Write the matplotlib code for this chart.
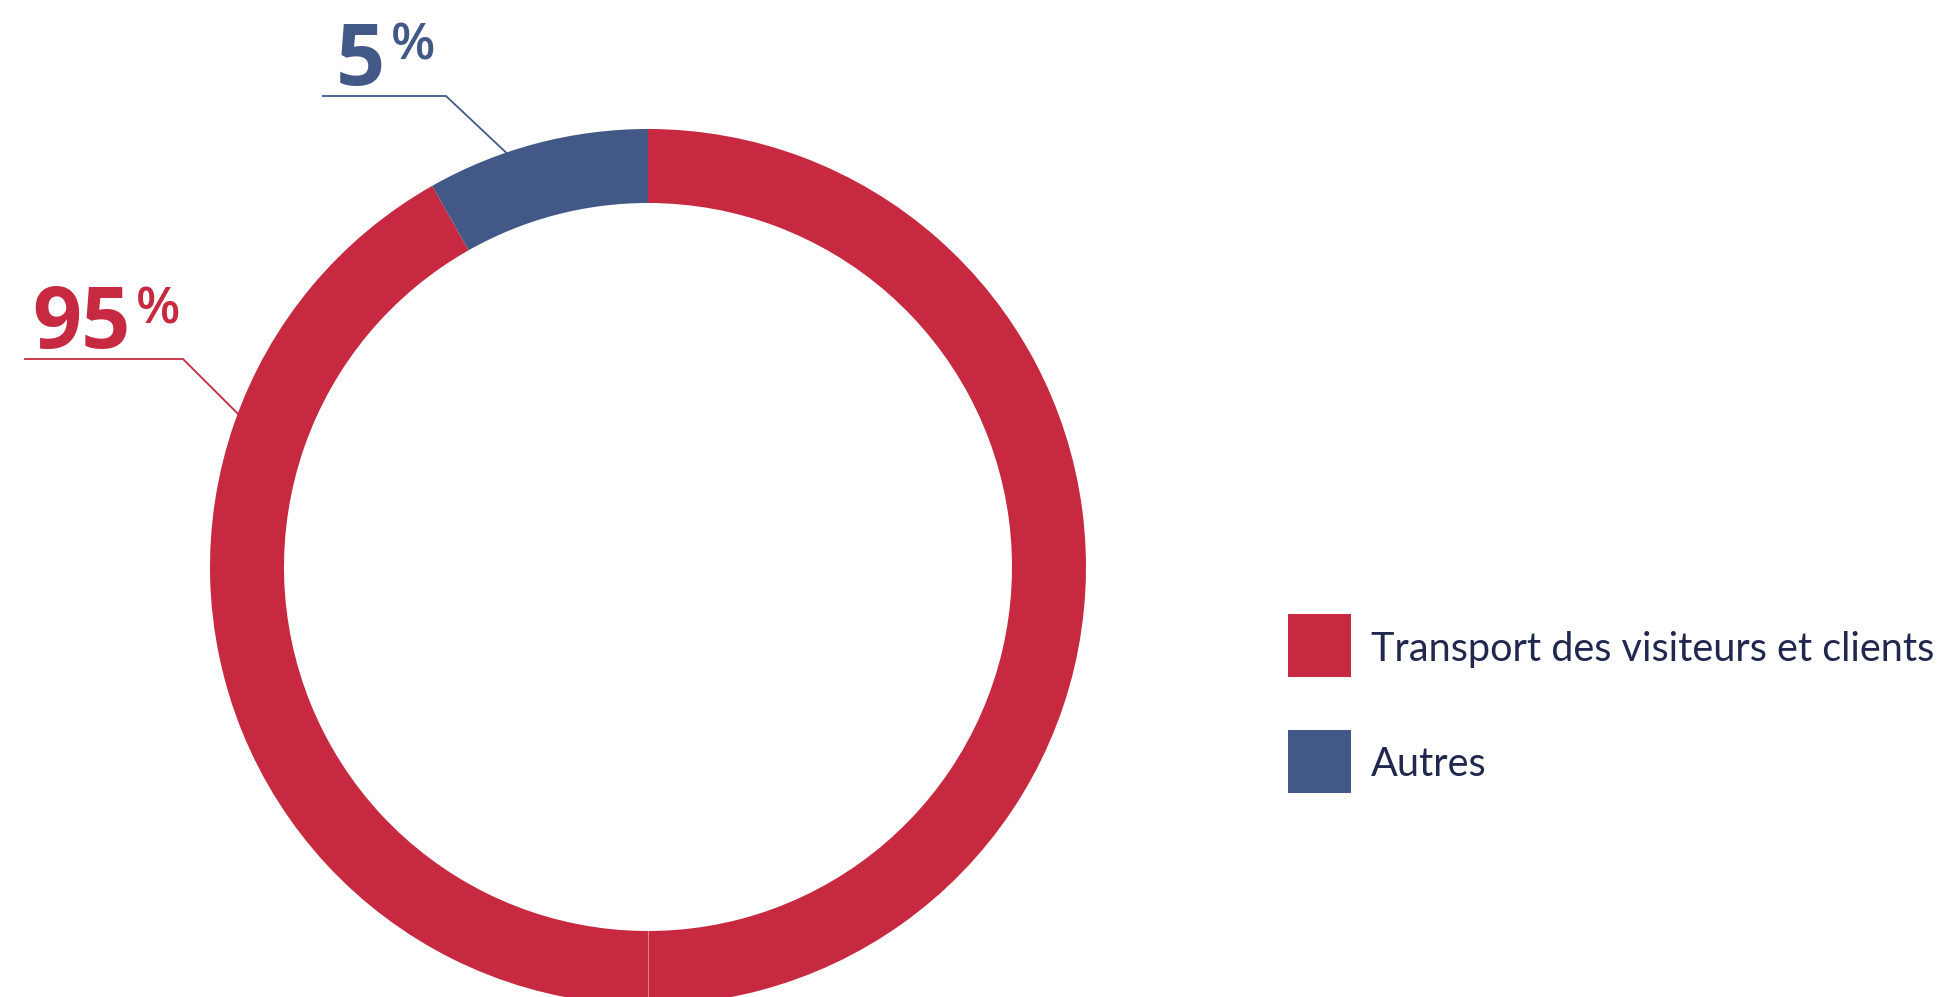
import numpy as np
import matplotlib
matplotlib.use("Agg")
import matplotlib.pyplot as plt
from matplotlib.patches import Rectangle

# -----------------------------
# Data
# -----------------------------
categories = ["Transport des visiteurs et clients", "Autres"]
pct_labels = ["95", "5"]
# arc shares as drawn in the picture (blue arc spans ~30 degrees)
arc_shares = [91.8, 8.2]
colors = ["#C62940", "#425988"]
text_color = "#20284F"

W, H = 1942, 997
CX, CY = 648, H - 567
R_OUT, R_IN = 438, 364

plt.rcParams["font.family"] = ["Lato", "DejaVu Sans"]
num_font = ["Open Sans", "DejaVu Sans"]

fig = plt.figure(figsize=(W / 100, H / 100), dpi=100)
ax = fig.add_axes([0, 0, 1, 1])

# -----------------------------
# Donut
# -----------------------------
wedges, _ = ax.pie(
    arc_shares,
    colors=colors,
    startangle=90,
    counterclock=False,
    center=(CX, CY),
    radius=R_OUT,
    frame=True,
    wedgeprops=dict(width=R_OUT - R_IN, edgecolor="none", linewidth=0),
)
ax.set_xlim(0, W)
ax.set_ylim(0, H)
ax.set_aspect("equal")
ax.axis("off")

# faint seam at the bottom of the red ring
ax.plot([CX, CX], [CY - R_IN, CY - R_OUT], color="white", lw=0.8, alpha=0.4)


def ring_point(angle_deg, r=R_OUT):
    a = np.radians(angle_deg)
    return CX + r * np.cos(a), CY + r * np.sin(a)


# -----------------------------
# Leader lines + percentage labels
# -----------------------------
# (label, colour, angle on ring, elbow x, line start x, line y, text x)
callouts = [
    (pct_labels[0], colors[0], 159.5, 183, 25, H - 359, 32),
    (pct_labels[1], colors[1], 108.9, 446, 323, H - 96, 336),
]
for lab, col, ang, ex, sx, ly, tx in callouts:
    px, py = ring_point(ang)
    ax.plot([sx, ex, px], [ly, ly, py], color=col, lw=1.3, solid_joinstyle="miter")
    num = ax.text(tx, ly + 11, lab, color=col, fontsize=62, fontweight="bold",
                  fontstyle="normal", family=num_font, ha="left", va="baseline")
    fig.canvas.draw()
    bb = num.get_window_extent()
    ax.text(bb.x1 + 6, ly + 74, "%", color=col, fontsize=37, fontweight="semibold",
            fontstyle="normal", family=num_font, ha="left", va="top")

# -----------------------------
# Legend
# -----------------------------
leg_x, leg_size = 1288, 63
leg_tops = [614, 730]
for name, col, top in zip(categories, colors, leg_tops):
    ax.add_patch(Rectangle((leg_x, H - top - leg_size), leg_size, leg_size,
                           facecolor=col, edgecolor="none"))
    ax.text(leg_x + leg_size + 20, H - top - leg_size / 2, name, color=text_color,
            fontsize=28.5, fontstyle="normal", ha="left", va="center_baseline")

fig.savefig("out.png", dpi=100)
